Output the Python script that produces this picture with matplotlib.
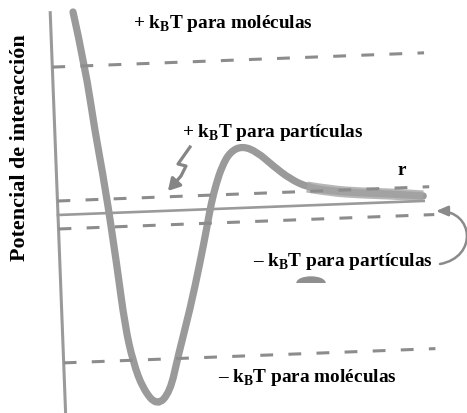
import numpy as np
import matplotlib
matplotlib.use('Agg')
import matplotlib.pyplot as plt
from matplotlib.transforms import Affine2D
from matplotlib.patches import FancyArrowPatch, Ellipse, PathPatch
from matplotlib.path import Path

plt.rcParams['font.family'] = ['Liberation Serif', 'DejaVu Serif']
plt.rcParams['font.weight'] = 'bold'
plt.rcParams['mathtext.fontset'] = 'custom'
plt.rcParams['mathtext.rm'] = 'Liberation Serif:bold'

# potencial de interacción V(r), unidades arbitrarias
r = [22.8, 32.7, 40.2, 48.1, 57.0, 62.7, 69.4, 78.3, 91.7, 105.2, 114.6,
     128.4, 140.2, 148.6, 153.4, 159.2, 165.9, 174.4, 186.6, 201.4, 216.9,
     233.4, 250.0, 272.9, 302.8, 332.8, 365.7]
V = [202.3, 147.9, 81.5, 27.2, -53.3, -113.5, -149.8, -177.2, -194.7,
     -181.2, -145.5, -99.0, -52.5, -16.7, 5.1, 24.9, 42.7, 56.4, 61.9, 55.4,
     40.7, 27.1, 18.4, 13.6, 10.4, 8.3, 5.0]

# niveles de energía térmica
kT_mol = 148
kT_part = 14
r_max = 372

grey = '#9a9a9a'
dash_grey = '#8c8c8c'


def smooth_path(xs, ys):
    # curva cuadrática que pasa por los puntos medios
    pts = list(zip(xs, ys))
    verts = [pts[0]]
    codes = [Path.MOVETO]
    for i in range(1, len(pts) - 1):
        mid = ((pts[i][0] + pts[i + 1][0]) / 2, (pts[i][1] + pts[i + 1][1]) / 2)
        verts += [pts[i], mid]
        codes += [Path.CURVE3, Path.CURVE3]
    verts.append(pts[-1])
    codes.append(Path.LINETO)
    return Path(verts, codes)


fig = plt.figure(figsize=(4.67, 4.14), dpi=100)
ax = fig.add_axes([0, 0, 1, 1])
ax.set_xlim(0, 467)
ax.set_ylim(0, 414)
ax.axis('off')

# el dibujo está ligeramente girado
tr = Affine2D().rotate_deg(2.2).translate(58, 198) + ax.transData

# ejes
ax.plot([0, 0], [-210, 204], color=grey, lw=2.2, transform=tr, solid_capstyle='butt')
ax.plot([0, 366], [0, 0], color=grey, lw=1.9, transform=tr)

# líneas de k_BT
for lvl, x1 in [(kT_mol, r_max), (-kT_mol, r_max), (kT_part, r_max), (-kT_part, 376)]:
    ax.plot([0, x1], [lvl, lvl], color=dash_grey, lw=2.2, dashes=[4.2, 5.0],
            transform=tr)

# curva del potencial
ax.add_patch(PathPatch(smooth_path(r, V), fill=False, edgecolor=grey, lw=5.2,
                       capstyle='round', joinstyle='round', transform=tr))
ax.add_patch(PathPatch(smooth_path(r[-5:], V[-5:]), fill=False, edgecolor='#a5a5a5',
                       lw=8, alpha=0.8, transform=tr))

txt = dict(fontsize=13.9, fontweight='bold', color='black')
ax.text(133, 414 - 28, '+ k$_\\mathrm{B}$T para moléculas', ha='left', va='baseline', **txt)
ax.text(182, 414 - 137, '+ k$_\\mathrm{B}$T para partículas', ha='left', va='baseline', **txt)
ax.text(402, 414 - 175, 'r', ha='center', va='baseline', **txt)
ax.text(253, 414 - 266, '– k$_\\mathrm{B}$T para partículas', ha='left', va='baseline', **txt)
ax.text(218, 414 - 382, '– k$_\\mathrm{B}$T para moléculas', ha='left', va='baseline', **txt)
ax.text(20, 414 - 148, 'Potencial de interacción', rotation=90, ha='center',
        va='center', fontsize=15.9, fontweight='bold', color='black')

# flecha en zigzag
zz_x = [190, 178, 186, 181, 174]
zz_y = [148, 165, 167, 177, 185]
ax.plot(zz_x, [414 - y for y in zz_y], color='#858585', lw=2.3,
        solid_joinstyle='round')
ax.add_patch(FancyArrowPatch((176, 414 - 183), (166, 414 - 194),
                             arrowstyle='-|>,head_length=7,head_width=4',
                             color='#858585', lw=2.3))

# flecha curva a la derecha
p = Path([(440, 414 - 265), (478, 414 - 258), (474, 414 - 212), (436, 414 - 212)],
         [Path.MOVETO, Path.CURVE4, Path.CURVE4, Path.CURVE4])
ax.add_patch(FancyArrowPatch(path=p, arrowstyle='-|>,head_length=7,head_width=3',
                             color='#8a8a8a', lw=1.8))

# mancha bajo el texto
e = Ellipse((311, 414 - 284), 28, 12, color='#8f8f8f')
ax.add_patch(e)
clip = plt.Rectangle((290, 414 - 284), 50, 20, transform=ax.transData)
e.set_clip_path(clip)

fig.savefig('out.png', dpi=100)
